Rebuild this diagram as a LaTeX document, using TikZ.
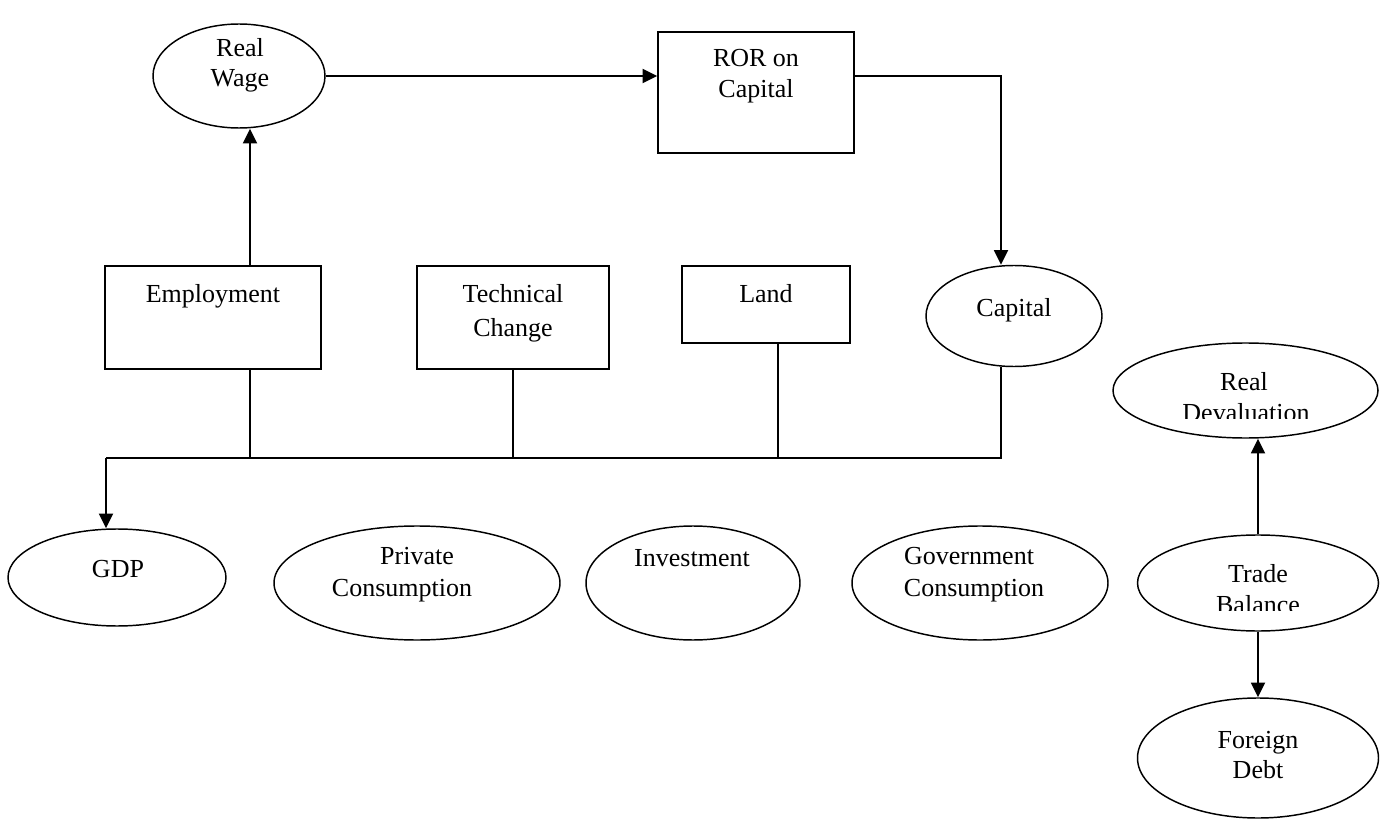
\documentclass[tikz,border=0pt]{standalone}
\usepackage{fontspec}
\setmainfont{Liberation Serif}
\usetikzlibrary{shapes.geometric,arrows.meta}
\begin{document}
\begin{tikzpicture}[x=0.75pt,y=-0.75pt,
 ovl/.style 2 args={ellipse,draw,line width=1.1pt,minimum width=#1*0.75pt,minimum height=#2*0.75pt,inner sep=0pt},
 bx/.style 2 args={rectangle,draw,line width=1.1pt,minimum width=#1*0.75pt,minimum height=#2*0.75pt,inner sep=0pt},
 txt/.style={anchor=base,inner sep=0pt,font=\fontsize{19.5}{23}\selectfont},
 con/.style={line width=1.4pt},
 arr/.style={con,-{Triangle[length=11pt,width=10.5pt]}}]
\useasboundingbox (0,0) rectangle (1390,820);
\fill[white] (0,0) rectangle (1390,820);
% shapes
\node[ovl={172}{104}] (rw) at (239,76) {};
\node[bx={196}{121}] (ror) at (756,92.5) {};
\node[bx={216}{103}] (emp) at (213,317.5) {};
\node[bx={192}{103}] (tech) at (513,317.5) {};
\node[bx={168}{77}] (land) at (766,304.5) {};
\node[ovl={176}{101}] (cap) at (1014,316) {};
\node[ovl={218}{97}] (gdp) at (117,577.5) {};
\node[ovl={286}{114}] (pc) at (417,583) {};
\node[ovl={214}{114}] (inv) at (693,583) {};
\node[ovl={256}{114}] (gc) at (980,583) {};
\node[ovl={265}{95}] (rd) at (1245.5,390.5) {};
\node[ovl={241}{96}] (tb) at (1258,583) {};
\node[ovl={241}{120}] (fd) at (1258,758) {};
% bus coordinates
\coordinate (j) at (250,458);
\coordinate (bl) at (106,458);
\coordinate (vx) at (1001,458);
\coordinate (lx) at (778,458);
% connectors
\draw[arr] (j |- emp.north) -- (j |- rw.south);
\draw[arr] (rw.east) -- (ror.west |- rw.east);
\draw[arr] (ror.east |- rw.east) -- (vx |- rw.east) -- (vx |- cap.north);
\draw[con] (vx |- cap.south) -- (vx) -- (bl);
\draw[arr] (bl) -- (bl |- gdp.north);
\draw[con] (j |- emp.south) -- (j);
\draw[con] (tech.south) -- (tech.south |- bl);
\draw[con] (lx |- land.south) -- (lx);
\draw[arr] (tb.north) -- (tb.north |- rd.south);
\draw[arr] (tb.south) -- (fd.north);
% texts
\node[txt] (trw1) at (240,57) {Real};
\node[txt] (trw2) at (240,87) {Wage};
\node[txt] (tror1) at (756,67) {ROR on};
\node[txt] (tror2) at (756,98) {Capital};
\node[txt] (temp) at (213,303) {Employment};
\node[txt] (ttc1) at (513,303) {Technical};
\node[txt] (ttc2) at (513,336) {Change};
\node[txt] (tland) at (766,303) {Land};
\node[txt] (tcap) at (1014,316) {Capital};
\node[txt] (tgdp) at (118,577) {GDP};
\node[txt] (tpc1) at (417,564) {Private};
\node[txt] (tpc2) at (402,596) {Consumption};
\node[txt] (tinv) at (692,566) {Investment};
\node[txt] (tgc1) at (969,564) {Government};
\node[txt] (tgc2) at (974,596) {Consumption};
\node[txt] (trd1) at (1244,390) {Real};
\begin{scope}
\clip (1100,395) rectangle (1390,418);
\node[txt] (trd2) at (1246,421) {Devaluation};
\end{scope}
\node[txt] (ttb1) at (1258,582) {Trade};
\begin{scope}
\clip (1100,590) rectangle (1390,610);
\node[txt] (ttb2) at (1258,613) {Balance};
\end{scope}
\node[txt] (tfd1) at (1258,748) {Foreign};
\node[txt] (tfd2) at (1258,778) {Debt};
\end{tikzpicture}
\end{document}
